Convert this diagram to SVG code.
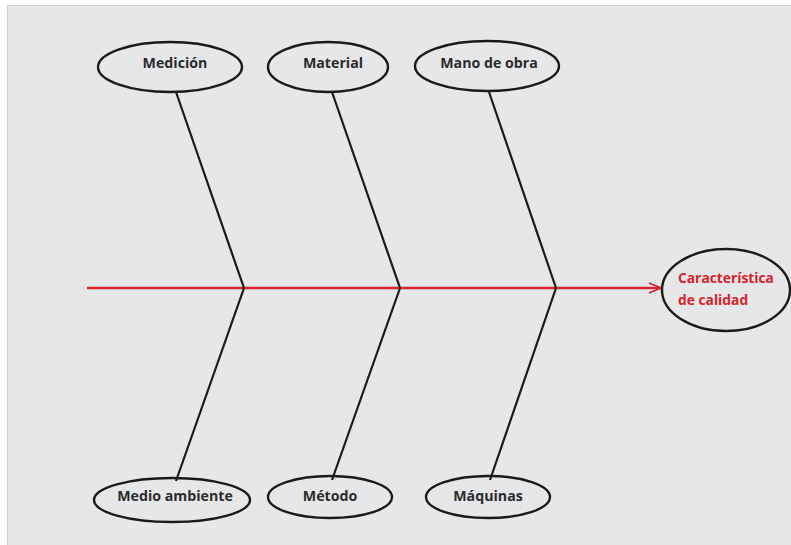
<svg xmlns="http://www.w3.org/2000/svg" width="791" height="545" viewBox="0 0 791 545">
<defs>
<style>
.bg{fill:#e6e7e9;stroke:#cfd0d2;stroke-width:1}
.el{fill:none;stroke:#1a1a1a;stroke-width:2.4}
.t{font-family:"Open Sans","Noto Sans",sans-serif;font-weight:bold;font-size:14.2px;fill:#2b2b2b;text-anchor:middle}
.rt{font-family:"Open Sans","Noto Sans",sans-serif;font-weight:bold;font-size:13.8px;fill:#d9222a}
.bone{fill:none;stroke:#1a1a1a;stroke-width:2.2}
.spine{fill:none;stroke:#d9222a;stroke-width:2.6}
</style>
<marker id="arr" markerWidth="14" markerHeight="12" refX="13" refY="6" orient="auto" markerUnits="userSpaceOnUse">
<path d="M1,1 L13,6 L1,11" fill="none" stroke="#d9222a" stroke-width="1.8"/>
</marker>
</defs>
<rect class="bg" x="7.5" y="5.5" width="790" height="545"/>
<g id="connectors">
<line class="spine" x1="87" y1="288" x2="661" y2="288" marker-end="url(#arr)"/>
<polyline class="bone" points="176,92 244,288 176,481"/>
<polyline class="bone" points="332,92 400,288 332,480"/>
<polyline class="bone" points="489,92 556,288 490,480"/>
</g>
<g id="medicion"><ellipse class="el" cx="170" cy="67" rx="72" ry="25"/><text class="t" x="175" y="68">Medición</text></g>
<g id="material"><ellipse class="el" cx="328" cy="67" rx="60" ry="25"/><text class="t" x="333" y="68">Material</text></g>
<g id="mano"><ellipse class="el" cx="487" cy="66" rx="72" ry="25"/><text class="t" x="489" y="68">Mano de obra</text></g>
<g id="medio"><ellipse class="el" cx="172" cy="500" rx="78" ry="22"/><text class="t" x="175" y="501">Medio ambiente</text></g>
<g id="metodo"><ellipse class="el" cx="330" cy="497" rx="62" ry="21"/><text class="t" x="330" y="501">Método</text></g>
<g id="maquinas"><ellipse class="el" cx="488" cy="497" rx="62" ry="21"/><text class="t" x="488" y="501">Máquinas</text></g>
<g id="caracteristica"><ellipse class="el" cx="726" cy="290" rx="64" ry="41"/><text class="rt" x="678" y="283">Característica</text><text class="rt" x="678" y="305">de calidad</text></g>
</svg>
